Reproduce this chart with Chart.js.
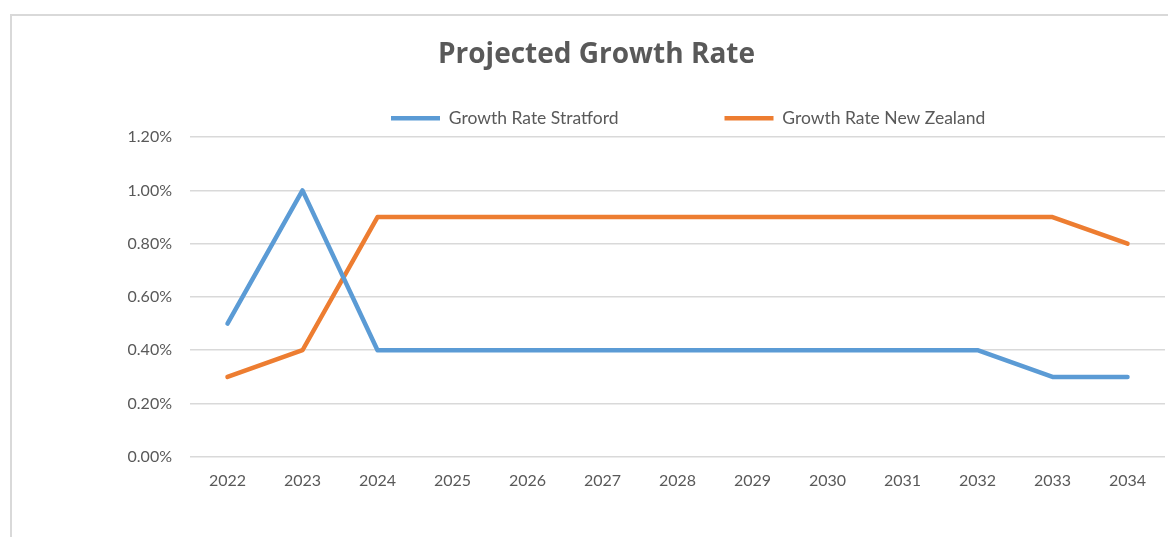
<!DOCTYPE html>
<html>
<head>
<meta charset="utf-8">
<script src="https://cdn.jsdelivr.net/npm/chart.js@4/dist/chart.umd.min.js"></script>
<style>
    html, body { margin: 0; padding: 0; background: #fff; }
    body { width: 1168px; height: 537px; position: relative; overflow: hidden; }
    /* chart frame, only top and left edges are visible in the crop */
    .frame {
        position: absolute; left: 10px; top: 14px;
        width: 1200px; height: 600px;
        border-left: 2px solid #d9d9d9; border-top: 2px solid #d9d9d9;
    }
    #wrap { position: absolute; left: 0; top: 0; width: 1168px; height: 537px; }
</style>
</head>
<body>
<div class="frame"></div>
<div id="wrap"><canvas id="growthChart"></canvas></div>
<script>
// Chart data
const years = ['2022', '2023', '2024', '2025', '2026', '2027', '2028', '2029', '2030', '2031', '2032', '2033', '2034'];
const stratford = [0.5, 1.0, 0.4, 0.4, 0.4, 0.4, 0.4, 0.4, 0.4, 0.4, 0.4, 0.3, 0.3];
const newZealand = [0.3, 0.4, 0.9, 0.9, 0.9, 0.9, 0.9, 0.9, 0.9, 0.9, 0.9, 0.9, 0.8];
const yTicks = [0, 0.2, 0.4, 0.6, 0.8, 1.0, 1.2];

const textColor = '#595959';
const fontFamily = 'Lato, "Open Sans", sans-serif';

// The original chart frame is wider than the crop, so title and legend sit right of centre
const shiftBoxes = {
    id: 'shiftBoxes',
    afterLayout(chart) {
        if (chart.legend) {
            chart.legend.left = 285;
        }
        if (chart.titleBlock) {
            chart.titleBlock.left += 14;
            chart.titleBlock.right += 14;
        }
    }
};

const ctx = document.getElementById('growthChart').getContext('2d');
const growthChart = new Chart(ctx, {
    type: 'line',
    data: {
        labels: years,
        datasets: [
            {
                label: 'Growth Rate Stratford',
                data: stratford,
                borderColor: '#5b9bd5',
                backgroundColor: '#5b9bd5',
                borderWidth: 4.5,
                borderCapStyle: 'round',
                borderJoinStyle: 'round',
                pointRadius: 0,
                tension: 0
            },
            {
                label: 'Growth Rate New Zealand',
                data: newZealand,
                borderColor: '#ed7d31',
                backgroundColor: '#ed7d31',
                borderWidth: 4.5,
                borderCapStyle: 'round',
                borderJoinStyle: 'round',
                pointRadius: 0,
                tension: 0
            }
        ]
    },
    options: {
        responsive: true,
        maintainAspectRatio: false,
        animation: false,
        layout: {
            padding: { left: 0, right: 3, top: 0, bottom: 41 }
        },
        plugins: {
            title: {
                display: true,
                text: 'Projected Growth Rate',
                color: textColor,
                font: { family: '"Open Sans", sans-serif', size: 28, weight: 'bold' },
                padding: { top: 38, bottom: -68 }
            },
            legend: {
                align: 'start',
                labels: {
                    color: textColor,
                    usePointStyle: true,
                    pointStyle: 'line',
                    pointStyleWidth: 49,
                    padding: 106,
                    font: { family: fontFamily, size: 17.5 }
                }
            },
            tooltip: { enabled: false }
        },
        scales: {
            x: {
                offset: true,
                grid: { display: false },
                border: { display: false },
                ticks: {
                    color: textColor,
                    padding: 6,
                    maxRotation: 0,
                    font: { family: fontFamily, size: 16 }
                }
            },
            y: {
                min: 0,
                max: 1.2,
                afterBuildTicks: function(scale) {
                    scale.ticks = yTicks.map(v => ({ value: v }));
                },
                afterFit: function(scale) {
                    scale.width = 190;
                },
                grid: { color: '#d9d9d9', lineWidth: 1.5, drawTicks: false },
                border: { display: false },
                ticks: {
                    color: textColor,
                    padding: 18,
                    font: { family: fontFamily, size: 16 },
                    callback: function(value) {
                        return value.toFixed(2) + '%';
                    }
                }
            }
        }
    },
    plugins: [shiftBoxes]
});
</script>
</body>
</html>
